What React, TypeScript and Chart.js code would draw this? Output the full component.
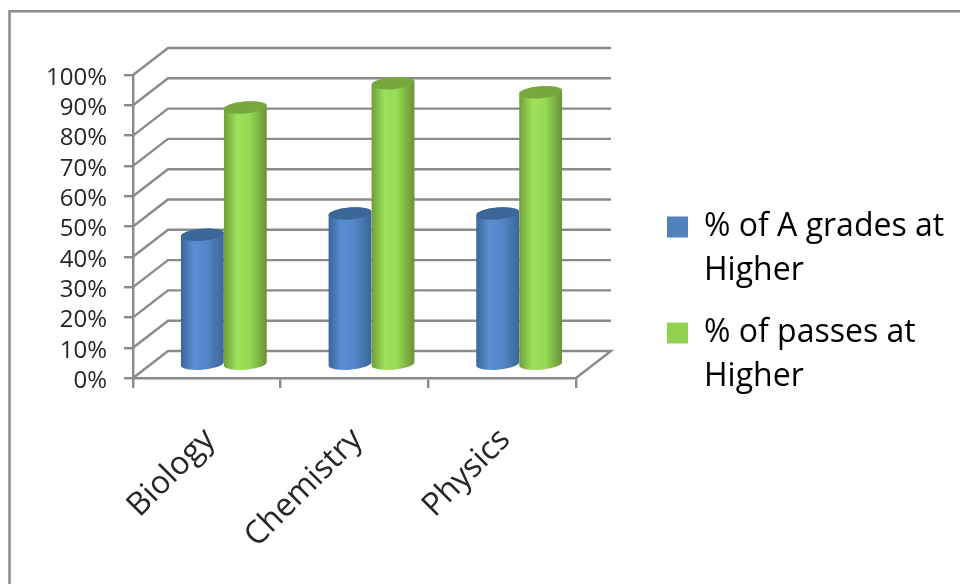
import React, { useEffect, useRef } from "react";
import { Chart, registerables } from "chart.js";

Chart.register(...registerables);

const categories = ["Biology", "Chemistry", "Physics"];
const aGrades = [43, 50, 50];
const passes = [85, 93, 90];
const seriesALabel = ["% of A grades at", "Higher"];
const seriesBLabel = ["% of passes at", "Higher"];
const FONT = "Open Sans";
const GREY = "#8a8a8a";
const TEXT = "#262626";
const depthX = 35;
const depthY = -27;
const barShiftX = 17;
const barShiftY = -13;

const shades: Record<string, string[]> = {
  "#4F81BD": ["#3a6598", "#5a8fd2", "#5487c8", "#3b6699", "#3b6698"],
  "#92D050": ["#6f9e38", "#9be05a", "#96da55", "#6a9236", "#77a840"],
};

const framePlugin = {
  id: "frame",
  beforeDraw(chart: any) {
    const { ctx } = chart;
    ctx.save();
    ctx.fillStyle = "#ffffff";
    ctx.fillRect(0, 0, chart.width, chart.height);
    ctx.strokeStyle = GREY;
    ctx.lineWidth = 2.5;
    ctx.strokeRect(9.5, 11.3, 1200, 1200);
    ctx.restore();
  },
};

const legendPlacer = {
  id: "legendPlacer",
  afterLayout(chart: any) {
    const l = chart.legend;
    l.left = 648;
    l.right = l.left + 320;
    l.top = 192;
    l.bottom = 500;
  },
};

const cylinders = {
  id: "cylinders",
  beforeDatasetsDraw(chart: any) {
    const { ctx, scales } = chart;
    const x = scales.x;
    const y = scales.y;
    ctx.save();
    ctx.strokeStyle = GREY;
    ctx.lineWidth = 2.4;
    // side wall, back wall and floor lines from the value scale
    y.ticks.forEach((t: any) => {
      const py = y.getPixelForValue(t.value);
      ctx.beginPath();
      ctx.moveTo(x.left, py);
      ctx.lineTo(x.left + depthX, py + depthY);
      ctx.lineTo(x.right + depthX, py + depthY);
      if (t.value === 0) ctx.lineTo(x.right, py);
      ctx.stroke();
    });
    // cylinders
    chart.data.datasets.forEach((ds: any, di: number) => {
      const meta = chart.getDatasetMeta(di);
      const s = shades[ds.backgroundColor];
      meta.data.forEach((el: any) => {
        const w = el.width;
        const cx = el.x + barShiftX;
        const top = el.y + barShiftY;
        const bot = el.base + barShiftY;
        const rx = w / 2;
        const ry = 6;
        const rot = -0.08;
        const g = ctx.createLinearGradient(cx - rx, 0, cx + rx, 0);
        g.addColorStop(0, s[0]);
        g.addColorStop(0.3, s[1]);
        g.addColorStop(0.6, s[2]);
        g.addColorStop(1, s[3]);
        ctx.fillStyle = g;
        ctx.beginPath();
        ctx.ellipse(cx, bot, rx, ry, rot, 0, Math.PI);
        ctx.ellipse(cx, top, rx, ry, rot, Math.PI, Math.PI * 2);
        ctx.closePath();
        ctx.fill();
        ctx.fillStyle = s[4];
        ctx.beginPath();
        ctx.ellipse(cx, top, rx, ry, rot, 0, Math.PI * 2);
        ctx.fill();
      });
    });
    ctx.restore();
    return false;
  },
};

export default function App() {
  const ref = useRef<HTMLCanvasElement>(null);
  useEffect(() => {
    document.body.style.margin = "0";
    const chart = new Chart(ref.current!, {
      type: "bar",
      data: {
        labels: categories,
        datasets: [
          { label: seriesALabel.join(" "), data: aGrades, backgroundColor: "#4F81BD" },
          { label: seriesBLabel.join(" "), data: passes, backgroundColor: "#92D050" },
        ],
      },
      options: {
        animation: false,
        responsive: false,
        devicePixelRatio: 1,
        layout: { padding: { left: 0, top: 75, right: 384, bottom: 0 } },
        datasets: { bar: { categoryPercentage: 0.582, barPercentage: 1 } },
        scales: {
          x: {
            afterFit: (a: any) => { a.height = 206; },
            grid: { drawOnChartArea: false, drawTicks: true, tickLength: 10, color: GREY, lineWidth: 2.4 },
            border: { display: true, color: GREY, width: 2.4 },
            ticks: {
              font: { family: FONT, size: 32 },
              color: TEXT,
              minRotation: 45,
              maxRotation: 45,
              padding: 33,
              labelOffset: 3,
              autoSkip: false,
            },
          },
          y: {
            min: 0,
            max: 100,
            afterFit: (a: any) => { a.width = 133; },
            grid: { drawOnChartArea: false, drawTicks: true, tickLength: 9, color: GREY, lineWidth: 2.4 },
            border: { display: true, color: GREY, width: 2.4 },
            ticks: {
              stepSize: 10,
              autoSkip: false,
              font: { family: FONT, size: 24 },
              color: TEXT,
              padding: 17,
              labelOffset: 3,
              callback: (v: any) => v + "%",
            },
          },
        },
        plugins: {
          tooltip: { enabled: false },
          legend: {
            position: "chartArea",
            align: "start",
            labels: {
              boxWidth: 21,
              boxHeight: 21,
              padding: 19,
              color: TEXT,
              font: { family: FONT, size: 32, lineHeight: 1.36 },
              generateLabels: (c: any) => [seriesALabel, seriesBLabel].map((text, i) => ({
                text,
                fillStyle: c.data.datasets[i].backgroundColor,
                strokeStyle: c.data.datasets[i].backgroundColor,
                lineWidth: 0,
                datasetIndex: i,
              })),
            },
          },
        },
      } as any,
      plugins: [framePlugin, legendPlacer, cylinders],
    });
    return () => chart.destroy();
  }, []);
  return <canvas ref={ref} width={960} height={584} style={{ display: "block" }} />;
}
